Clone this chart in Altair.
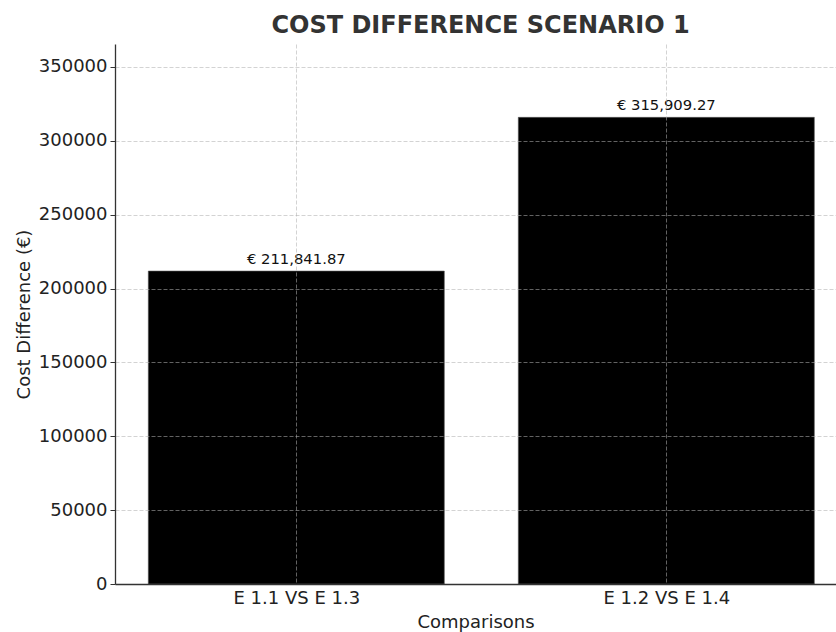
import altair as alt
import pandas as pd

categories = ["E 1.1 VS E 1.3", "E 1.2 VS E 1.4"]
positions = [0, 1]
values = [211841.87, 315909.27]
labels = ["€ 211,841.87", "€ 315,909.27"]

df = pd.DataFrame({
    "cat": categories,
    "pos": positions,
    "value": values,
    "label": labels,
})
df["x0"] = df["pos"] - 0.4
df["x1"] = df["pos"] + 0.4

FONT = "DejaVu Sans"

xscale = alt.Scale(domain=[-0.49, 1.4586], nice=False, zero=False)
yscale = alt.Scale(domain=[0, 365570], nice=False)

base = alt.Chart(df)

bars = base.mark_rect(color="black", stroke="#555555", strokeWidth=0.6).encode(
    x=alt.X("x0:Q", scale=xscale,
            axis=alt.Axis(values=[0, 1], title="Comparisons",
                          labelExpr="datum.value == 0 ? 'E 1.1 VS E 1.3' : 'E 1.2 VS E 1.4'",
                          tickSize=0, labelPadding=5, titlePadding=6,
                          grid=True, zindex=1)),
    x2="x1:Q",
    y=alt.Y("value:Q", scale=yscale,
            axis=alt.Axis(values=[0, 50000, 100000, 150000, 200000, 250000, 300000, 350000],
                          format="d", title="Cost Difference (€)",
                          tickSize=5, labelPadding=3, titlePadding=5,
                          grid=True, zindex=1)),
    y2=alt.datum(0),
)

text = base.mark_text(font=FONT, fontSize=14.8, color="#111111", baseline="bottom", dy=-4).encode(
    x=alt.X("pos:Q", scale=xscale),
    y=alt.Y("value:Q", scale=yscale),
    text="label:N",
)

chart = alt.layer(bars, text).properties(
    width=721,
    height=540,
    title=alt.TitleParams("COST DIFFERENCE SCENARIO 1", font=FONT, fontSize=24,
                          fontWeight="bold", color="#333333", offset=6, dx=5),
    autosize=alt.AutoSizeParams(type="none"),
    padding={"left": 115, "top": 44, "right": 0, "bottom": 48},
).configure_view(stroke=None).configure_axis(
    labelFont=FONT, titleFont=FONT, labelFontSize=18, titleFontSize=18,
    titleFontWeight="normal", labelColor="#222222", titleColor="#222222",
    domainColor="#333333", domainWidth=1.3, tickColor="#333333",
    gridColor="#b0b0b0", gridOpacity=0.7, gridDash=[4, 2], gridWidth=0.8,
).configure_axisY(domain=True).configure_axisX(domain=True)

chart.save("out.html", embed_options={"renderer": "svg", "actions": False})
